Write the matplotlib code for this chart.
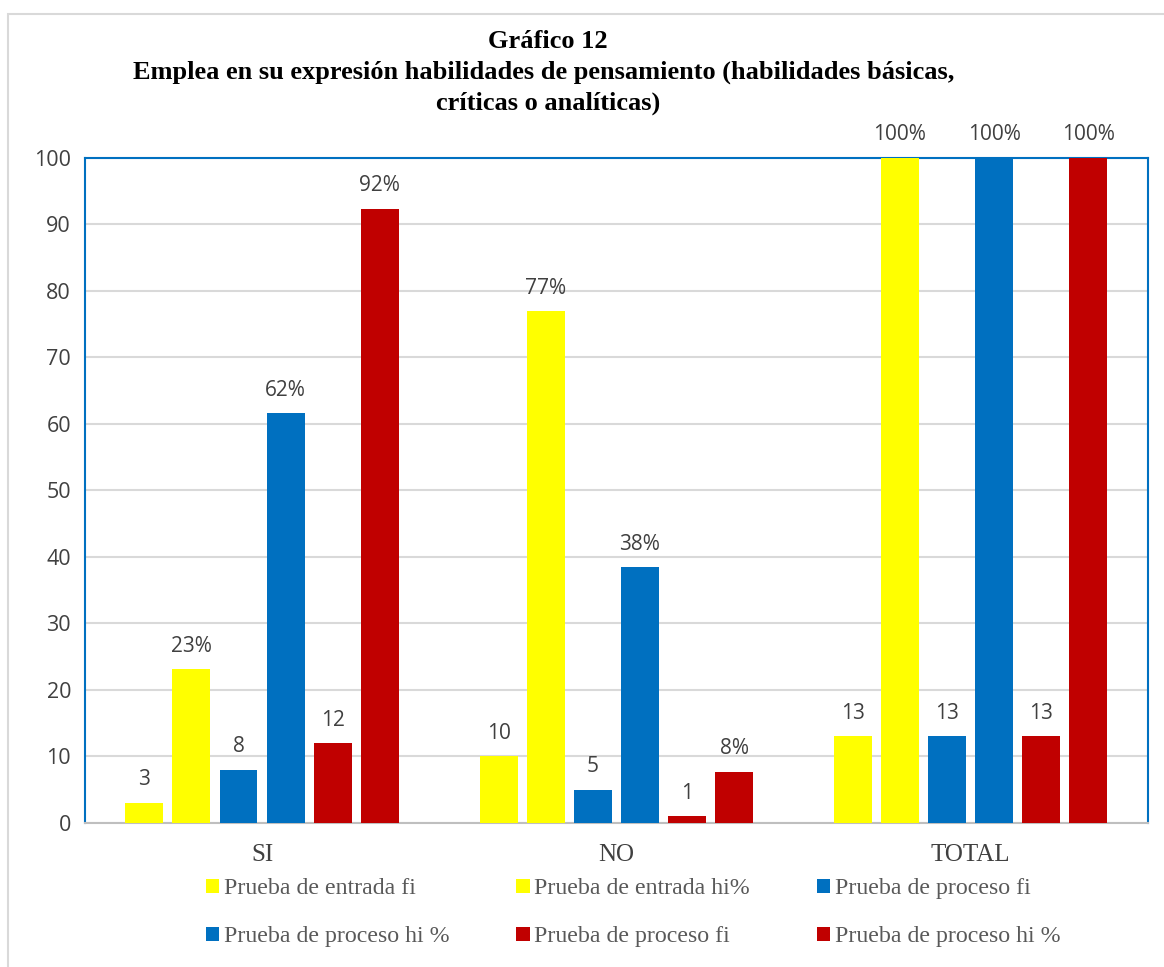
import matplotlib
matplotlib.use("Agg")
import matplotlib.pyplot as plt
from matplotlib.patches import Rectangle
import numpy as np

# datos del grafico
categorias = ["SI", "NO", "TOTAL"]
series = ["Prueba de entrada fi", "Prueba de entrada hi%", "Prueba de proceso fi",
          "Prueba de proceso hi %", "Prueba de proceso fi", "Prueba de proceso hi %"]
entrada_fi = [3, 10, 13]
entrada_hi = [23.08, 76.92, 100]
proceso_fi = [8, 5, 13]
proceso_hi = [61.54, 38.46, 100]
proceso2_fi = [12, 1, 13]
proceso2_hi = [92.31, 7.69, 100]
etiquetas = [["3", "10", "13"], ["23%", "77%", "100%"], ["8", "5", "13"],
             ["62%", "38%", "100%"], ["12", "1", "13"], ["92%", "8%", "100%"]]
colores = ["#FFFF00", "#FFFF00", "#0070C0", "#0070C0", "#C00000", "#C00000"]

valores = [entrada_fi, entrada_hi, proceso_fi, proceso_hi, proceso2_fi, proceso2_hi]

fig = plt.figure(figsize=(11.64, 9.67), dpi=100)
ax = fig.add_axes([0.073, 0.149, 0.913, 0.688])

# borde exterior gris
fig.patches.append(Rectangle((0.007, -0.01), 1.1, 0.996, transform=fig.transFigure,
                             fill=False, edgecolor="#D9D9D9", linewidth=1.5))

x = np.arange(len(categorias))
paso = 0.133
ancho = 0.107
barras = []
for i, (vals, col, etq) in enumerate(zip(valores, colores, etiquetas)):
    pos = x + (i - 2.5) * paso
    b = ax.bar(pos, vals, width=ancho, color=col, label=series[i], zorder=3)
    barras.append(b)
    for px, v, t in zip(pos, vals, etq):
        ax.annotate(t, (px, v), xytext=(0, 9), textcoords="offset points",
                    ha="center", va="bottom", fontsize=15, color="#404040",
                    family="Open Sans", annotation_clip=False)

ax.set_xlim(-0.5, 2.5)
ax.set_ylim(0, 100)
ax.set_yticks(range(0, 101, 10))
ax.set_xticks(x)
ax.set_xticklabels(categorias, family="Liberation Serif", fontsize=18, color="#404040")
for lab in ax.get_yticklabels():
    lab.set_family("Open Sans")
    lab.set_fontsize(15.5)
    lab.set_color("#404040")
ax.tick_params(axis="y", length=0, pad=10)
ax.tick_params(axis="x", length=0, pad=15)
ax.yaxis.grid(True, color="#D9D9D9", linewidth=1.5, zorder=0)
ax.set_axisbelow(True)
for s in ["left", "top", "right"]:
    ax.spines[s].set_color("#0070C0")
    ax.spines[s].set_linewidth(1.5)
ax.spines["bottom"].set_color("#BFBFBF")
ax.spines["bottom"].set_linewidth(1.5)

fig.text(0.471, 0.957, "Gráfico 12", ha="center", va="center", family="Liberation Serif",
         fontweight="bold", fontsize=19)
fig.text(0.467, 0.925, "Emplea en su expresión habilidades de pensamiento (habilidades básicas,",
         ha="center", va="center", family="Liberation Serif", fontweight="bold", fontsize=19)
fig.text(0.471, 0.893, "críticas o analíticas)", ha="center", va="center",
         family="Liberation Serif", fontweight="bold", fontsize=19)

# leyenda por filas (matplotlib rellena por columnas)
orden = [0, 3, 1, 4, 2, 5]
leg = fig.legend([barras[k] for k in orden], [series[k] for k in orden],
                 loc="center", bbox_to_anchor=(0.544, 0.056), ncol=3, frameon=False,
                 prop={"family": "Liberation Serif", "size": 17.2},
                 handlelength=0.55, handleheight=0.55, handletextpad=0.2,
                 columnspacing=2.8, labelspacing=1.13)
for t in leg.get_texts():
    t.set_color("#595959")

fig.savefig("out.png", dpi=100)
